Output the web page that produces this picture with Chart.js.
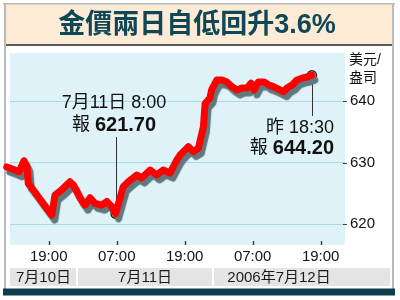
<!DOCTYPE html>
<html><head><meta charset="utf-8">
<script src="https://cdn.jsdelivr.net/npm/chart.js@4.4.1/dist/chart.umd.min.js"></script>
<style>
html,body{margin:0;padding:0;background:#fff;}
#wrap{position:relative;width:400px;height:300px;overflow:hidden;}
#c{position:absolute;left:0;top:0;}
</style></head><body>
<div id="wrap"><canvas id="c" width="400" height="300"></canvas></div>
<script>
const FONT = "'Liberation Sans','Noto Sans CJK TC',sans-serif";
const chartTitle = '金價兩日自低回升3.6%';
const unitLabel = ['美元/', '盎司'];
// hours counted from 2006-07-10 00:00
const hours = [11.6,13.05,13.75,14.65,15.15,15.4,16.25,18.0,19.55,20.1,21.3,22.75,23.35,24.5,25.4,26.3,27.15,28.35,29.25,30.1,30.8,32.15,33.05,34.55,35.4,36.9,38.05,39.2,40.4,41.6,42.15,43.65,44.5,45.4,46.3,46.6,47.45,47.75,48.65,49.6,50.45,51.35,52.25,53.1,54.0,54.7,55.25,56.0,57.0,57.85,58.75,59.65,60.5,61.05,61.95,62.8,63.7,64.6,65.45];
const prices = [629.3,628.8,628.5,630.3,629.4,626.6,625.6,623.4,621.5,624.7,625.6,626.9,626.4,624.3,623.1,624.3,623.4,623.1,623.7,622.9,621.7,626.1,626.9,628.0,627.5,628.8,628.0,628.8,628.3,630.4,631.2,632.6,631.8,632.3,635.8,639.6,640.5,641.8,643.4,643.4,643.1,642.3,641.8,642.1,642.1,642.9,641.8,643.1,643.1,642.6,642.3,641.9,641.5,642.1,642.6,643.4,643.7,643.9,644.2];
const xTickHours = [19, 31, 43, 55, 67];
const xTickLabels = ['19:00', '07:00', '19:00', '07:00', '19:00'];
const yTickValues = [620, 630, 640];
const dayBreaks = [24, 48];
const dayLabels = ['7月10日', '7月11日', '2006年7月12日'];
const noteIndex = [20, 58];
const noteTime = ['7月11日 8:00', '昨 18:30'];
const notePrefix = ['報', '報'];
const noteValue = ['621.70', '644.20'];

const markerData = noteIndex.map(i => ({x: hours[i], y: prices[i]}));

const decor = {
  id: 'decor',
  beforeDraw(chart) {
    const ctx = chart.ctx, a = chart.chartArea, xs = chart.scales.x;
    ctx.save();
    ctx.fillStyle = '#ffffff'; ctx.fillRect(0, 0, 400, 300);
    ctx.fillStyle = '#fdebd5'; ctx.fillRect(5, 4, 388, 41);
    ctx.fillStyle = '#b8b8b8'; ctx.fillRect(3, 3, 392, 1.5);
    ctx.fillStyle = '#5a5a5a'; ctx.fillRect(5, 44, 388, 2);
    ctx.fillStyle = '#b5bcbf';
    ctx.fillRect(4, 3, 2, 286);
    ctx.fillRect(392, 3, 2, 286);
    ctx.fillStyle = '#0f4757';
    ctx.font = 'bold 27px ' + FONT;
    ctx.textAlign = 'center'; ctx.textBaseline = 'middle';
    ctx.fillText(chartTitle, 197, 26);
    ctx.fillStyle = '#dff2f7';
    ctx.fillRect(a.left, a.top, a.right - a.left, a.bottom - a.top);
    const edges = [a.left].concat(dayBreaks.map(h => xs.getPixelForValue(h)), [390]);
    const centres = [a.left].concat(dayBreaks.map(h => xs.getPixelForValue(h)), [a.right]);
    ctx.font = '15px ' + FONT;
    for (let i = 0; i < dayLabels.length; i++) {
      const l = edges[i] + (i ? 1 : 0), r = edges[i + 1] - (i < dayLabels.length - 1 ? 1 : 0);
      ctx.fillStyle = '#e4e4e4';
      ctx.fillRect(l, 268, r - l, 18);
      ctx.fillStyle = '#1a1a1a';
      ctx.fillText(dayLabels[i], (centres[i] + centres[i + 1]) / 2, 277.5);
    }
    ctx.fillStyle = '#0d3c4b';
    ctx.fillRect(3, 288.5, 392, 7);
    ctx.restore();
  },
  beforeDatasetsDraw(chart) {
    const ctx = chart.ctx, a = chart.chartArea, xs = chart.scales.x, ys = chart.scales.y;
    ctx.save();
    ctx.strokeStyle = '#444'; ctx.lineWidth = 1.5;
    xTickHours.forEach(h => {
      const x = Math.round(xs.getPixelForValue(h)) + 0.5;
      ctx.beginPath(); ctx.moveTo(x, a.bottom - 4); ctx.lineTo(x, a.bottom); ctx.stroke();
    });
    ctx.lineWidth = 1;
    yTickValues.forEach(v => {
      const y = Math.round(ys.getPixelForValue(v)) + 0.5;
      ctx.beginPath(); ctx.moveTo(a.right - 2, y); ctx.lineTo(a.right + 2, y); ctx.stroke();
    });
    ctx.strokeStyle = '#333'; ctx.lineWidth = 1;
    const px0 = xs.getPixelForValue(markerData[0].x), py0 = ys.getPixelForValue(markerData[0].y);
    ctx.beginPath(); ctx.moveTo(Math.round(px0) + 0.5, 137); ctx.lineTo(Math.round(px0) + 0.5, py0); ctx.stroke();
    const px1 = xs.getPixelForValue(markerData[1].x), py1 = ys.getPixelForValue(markerData[1].y);
    ctx.beginPath(); ctx.moveTo(Math.round(px1) + 0.5, py1); ctx.lineTo(Math.round(px1) + 0.5, 116); ctx.stroke();
    ctx.restore();
  },
  beforeDatasetDraw(chart, args) {
    if (args.index === 0) {
      const ctx = chart.ctx;
      ctx.save();
      ctx.shadowColor = 'rgba(95,120,126,1)';
      ctx.shadowOffsetX = 3; ctx.shadowOffsetY = 5; ctx.shadowBlur = 1;
    }
  },
  afterDatasetDraw(chart, args) {
    if (args.index === 0) chart.ctx.restore();
  },
  afterDraw(chart) {
    const ctx = chart.ctx;
    ctx.save();
    ctx.fillStyle = '#111';
    ctx.textBaseline = 'middle';
    ctx.textAlign = 'left';
    ctx.font = '14px ' + FONT;
    ctx.fillText(unitLabel[0], 349, 60);
    ctx.fillText(unitLabel[1], 349, 78);
    const drawNote = (i, anchorX, align, y1, y2) => {
      ctx.font = '18px ' + FONT;
      ctx.textAlign = align;
      ctx.fillText(noteTime[i], anchorX, y1);
      const pre = notePrefix[i] + ' ';
      ctx.font = '18px ' + FONT; const w1 = ctx.measureText(pre).width;
      ctx.font = 'bold 20px ' + FONT; const w2 = ctx.measureText(noteValue[i]).width;
      const start = align === 'center' ? anchorX - (w1 + w2) / 2 : anchorX - (w1 + w2);
      ctx.textAlign = 'left';
      ctx.font = '18px ' + FONT; ctx.fillText(pre, start, y2);
      ctx.font = 'bold 20px ' + FONT; ctx.fillText(noteValue[i], start + w1, y2);
    };
    drawNote(0, 114, 'center', 103, 125);
    drawNote(1, 334, 'right', 128, 148);
    ctx.restore();
  }
};

new Chart(document.getElementById('c'), {
  type: 'line',
  data: {
    datasets: [{
      data: hours.map((h, i) => ({x: h, y: prices[i]})),
      borderColor: '#ff0000',
      borderWidth: 7,
      borderJoinStyle: 'round',
      borderCapStyle: 'round',
      pointRadius: 0,
      tension: 0,
      clip: false
    }, {
      data: markerData,
      showLine: false,
      pointRadius: 4.5,
      pointBackgroundColor: '#ffffff',
      pointBorderColor: '#222222',
      pointBorderWidth: 1.5,
      clip: false
    }]
  },
  plugins: [decor],
  options: {
    responsive: false,
    animation: false,
    devicePixelRatio: 1,
    layout: {padding: {left: 10, top: 53, right: 0, bottom: 0}},
    plugins: {legend: {display: false}, tooltip: {enabled: false}, title: {display: false}},
    scales: {
      x: {
        type: 'linear',
        min: 12.17, max: 71.29,
        afterFit(s) { s.height = 55; },
        afterBuildTicks(s) { s.ticks = xTickHours.map(v => ({value: v})); },
        grid: {display: false, drawTicks: false, tickLength: 0},
        border: {display: false},
        ticks: {
          autoSkip: false, maxRotation: 0, padding: 3,
          color: '#111', font: {family: FONT, size: 15},
          callback: (v) => xTickLabels[xTickHours.indexOf(v)]
        }
      },
      y: {
        position: 'right',
        min: 616.64, max: 647.79,
        afterFit(s) { s.width = 55; },
        afterBuildTicks(s) { s.ticks = yTickValues.map(v => ({value: v})); },
        grid: {color: '#a8d9e6', lineWidth: 1, drawTicks: false},
        border: {display: false},
        ticks: {padding: 5, color: '#111', font: {family: FONT, size: 15}}
      }
    }
  }
});
</script>
</body></html>
